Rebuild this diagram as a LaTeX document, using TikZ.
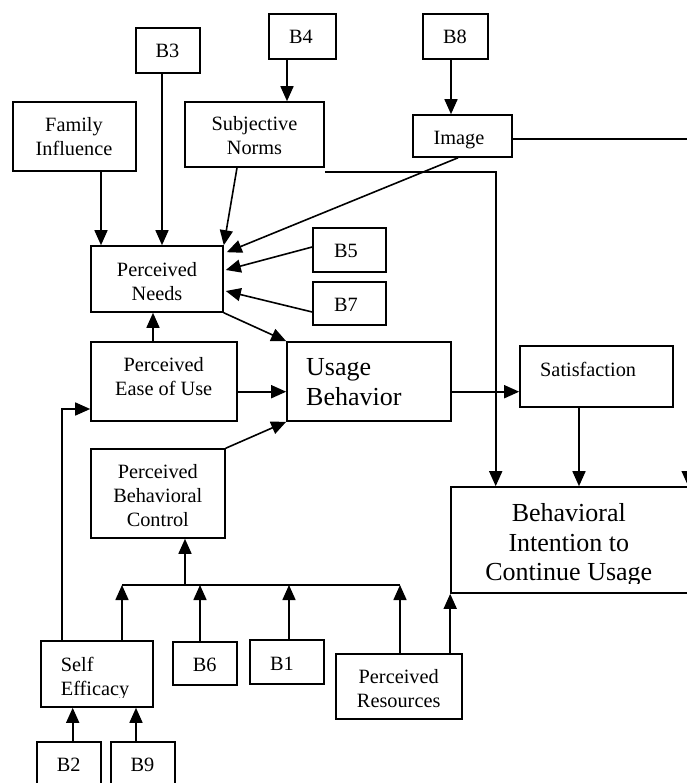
\documentclass[tikz,border=0pt]{standalone}
\usepackage{fontspec}
\setmainfont{Liberation Serif}
\usetikzlibrary{arrows.meta,calc}

\begin{document}
\begin{tikzpicture}[x=1pt,y=-1pt,
  box/.style={draw,line width=1.6pt,inner sep=0pt},
  line/.style={line width=1.6pt},
  arr/.style={line width=1.6pt,-{Triangle[length=15pt,width=13pt]}},
  sm/.style={font=\fontsize{20.3}{24}\selectfont,inner sep=0pt,align=center,anchor=base},
  lg/.style={font=\fontsize{26}{29.5}\selectfont,inner sep=0pt,align=center,anchor=base}]

\useasboundingbox (0,0) rectangle (686,783);
\fill[white] (0,0) rectangle (686,783);

% boxes
\node[box,minimum width=64pt,minimum height=45pt] (b3) at (168,50.5) {};
\node[box,minimum width=67pt,minimum height=45pt] (b4) at (302.5,36.5) {};
\node[box,minimum width=65pt,minimum height=45pt] (b8) at (455.5,36.5) {};
\node[box,minimum width=123pt,minimum height=69pt] (fi) at (74.5,136.5) {};
\node[box,minimum width=139pt,minimum height=65pt] (sn) at (254.5,134.5) {};
\node[box,minimum width=99pt,minimum height=42pt] (img) at (462.5,136) {};
\node[box,minimum width=132pt,minimum height=66pt] (pn) at (157,279) {};
\node[box,minimum width=73pt,minimum height=44pt] (b5) at (349.5,250) {};
\node[box,minimum width=73pt,minimum height=43pt] (b7) at (349.5,303.5) {};
\node[box,minimum width=146pt,minimum height=79pt] (peou) at (164,381.5) {};
\node[box,minimum width=164pt,minimum height=79pt] (ub) at (369,381.5) {};
\node[box,minimum width=153pt,minimum height=61pt] (sat) at (596.5,376.5) {};
\node[box,minimum width=134pt,minimum height=89pt] (pbc) at (158,493.5) {};
\node[box,minimum width=269pt,minimum height=106pt] (bi) at (585.5,540) {};
\node[box,minimum width=112pt,minimum height=66pt] (se) at (97,674) {};
\node[box,minimum width=64pt,minimum height=43pt] (b6) at (205,663.5) {};
\node[box,minimum width=74pt,minimum height=44pt] (b1) at (287,662) {};
\node[box,minimum width=126pt,minimum height=65pt] (pr) at (399,686.5) {};
\node[box,minimum width=64pt,minimum height=45pt] (b2) at (69,764.5) {};
\node[box,minimum width=64pt,minimum height=45pt] (b9) at (143,764.5) {};

% texts (multi-line nodes are placed by the baseline of their last line)
\node[sm] (b3t) at (167.5,58) {B3};
\node[sm] (b4t) at (301,44) {B4};
\node[sm] (b8t) at (455,44) {B8};
\node[sm] (fit) at (74,155.7) {Family\\Influence};
\node[sm] (snt) at (254.5,155) {Subjective\\Norms};
\node[sm] (imgt) at (459,144.5) {Image};
\node[sm] (pnt) at (157,300) {Perceived\\Needs};
\node[sm] (b5t) at (346,258) {B5};
\node[sm] (b7t) at (346,311) {B7};
\node[sm] (peout) at (163.7,395) {Perceived\\Ease of Use};
\node[lg,anchor=base west,align=left] (ubt) at (306,405) {Usage\\Behavior};
\node[sm,anchor=base west] (satt) at (540,376) {Satisfaction};
\node[sm] (pbct) at (157.8,526.7) {Perceived\\Behavioral\\Control};
\begin{scope}
  \clip (41,641) rectangle (153,697);
  \node[sm,anchor=base west,align=left] (set) at (60.7,695) {Self\\Efficacy};
\end{scope}
\node[sm] (b6t) at (204.7,671.7) {B6};
\node[sm] (b1t) at (282,670) {B1};
\node[sm] (prt) at (398.7,707.3) {Perceived\\Resources};
\begin{scope}
  \clip (451,487) rectangle (720,583);
  \node[lg] (bit) at (568.8,580.7) {Behavioral\\Intention to\\Continue Usage};
\end{scope}
\node[sm] (b2t) at (68.7,771.7) {B2};
\node[sm] (b9t) at (142.5,771.7) {B9};

% connectors into the upper boxes
\draw[arr] ([xshift=-15.5pt]b4.south) -- ([xshift=-15.5pt]b4.south |- sn.north);
\draw[arr] ([xshift=-4.5pt]b8.south) -- ([xshift=-4.5pt]b8.south |- img.north);

% connectors into Perceived Needs
\draw[arr] ([xshift=26.5pt]fi.south) -- ([xshift=26.5pt]fi.south |- pn.north);
\draw[arr] ([xshift=-6pt]b3.south) -- ([xshift=-6pt]b3.south |- pn.north);
\draw[arr] ([xshift=-17.5pt]sn.south) -- (pn.north east);
\draw[arr] ([xshift=-4.5pt]img.south) -- ([xshift=3pt,yshift=-7pt]pn.north east);
\draw[arr] ([yshift=3pt]b5.west) -- ([xshift=2pt,yshift=9pt]pn.east);
\draw[arr] ([yshift=-8.5pt]b7.west) -- ([xshift=2pt,yshift=-12pt]pn.east);
\draw[arr] ([xshift=-11pt]peou.north) -- ([xshift=-11pt]peou.north |- pn.south);

% connectors into Usage Behavior
\draw[arr] (pn.south east) -- (ub.north west);
\draw[arr] ([yshift=-10.2pt]peou.east) -- ([yshift=-10.2pt]peou.east -| ub.west);
\draw[arr] (pbc.north east) -- (ub.south west);

% Self Efficacy to Perceived Ease of Use
\draw[arr] ([xshift=-35pt]se.north) |- ([yshift=-27.5pt]peou.west);

% bus into Perceived Behavioral Control
\coordinate (busl) at (122,585);
\coordinate (busr) at (400,585);
\draw[line] (busl) -- (busr);
\draw[arr] ([xshift=27pt]pbc.south |- busl) -- ([xshift=27pt]pbc.south);
\draw[arr] ([xshift=25pt]se.north) -- ([xshift=25pt]se.north |- busl);
\draw[arr] ([xshift=-5pt]b6.north) -- ([xshift=-5pt]b6.north |- busl);
\draw[arr] ([xshift=2pt]b1.north) -- ([xshift=2pt]b1.north |- busl);
\draw[arr] (pr.north -| busr) -- (busr);

% into Self Efficacy
\draw[arr] ([xshift=3.7pt]b2.north) -- ([xshift=3.7pt]b2.north |- se.south);
\draw[arr] ([xshift=-7pt]b9.north) -- ([xshift=-7pt]b9.north |- se.south);

% towards Satisfaction and Behavioral Intention
\draw[arr] ([yshift=-10.2pt]ub.east) -- ([yshift=-10.2pt]ub.east -| sat.west);
\draw[arr] ([xshift=-17.5pt]sat.south) -- ([xshift=-17.5pt]sat.south |- bi.north);
\draw[arr] ([yshift=-4pt]sn.south east) -| ([xshift=45.5pt]bi.north west);
\draw[arr] (pr.north -| bi.south west) -- (bi.south west);
\draw[arr] ([yshift=-3pt]img.east) -| ([xshift=238pt]bi.north west);

\end{tikzpicture}
\end{document}
